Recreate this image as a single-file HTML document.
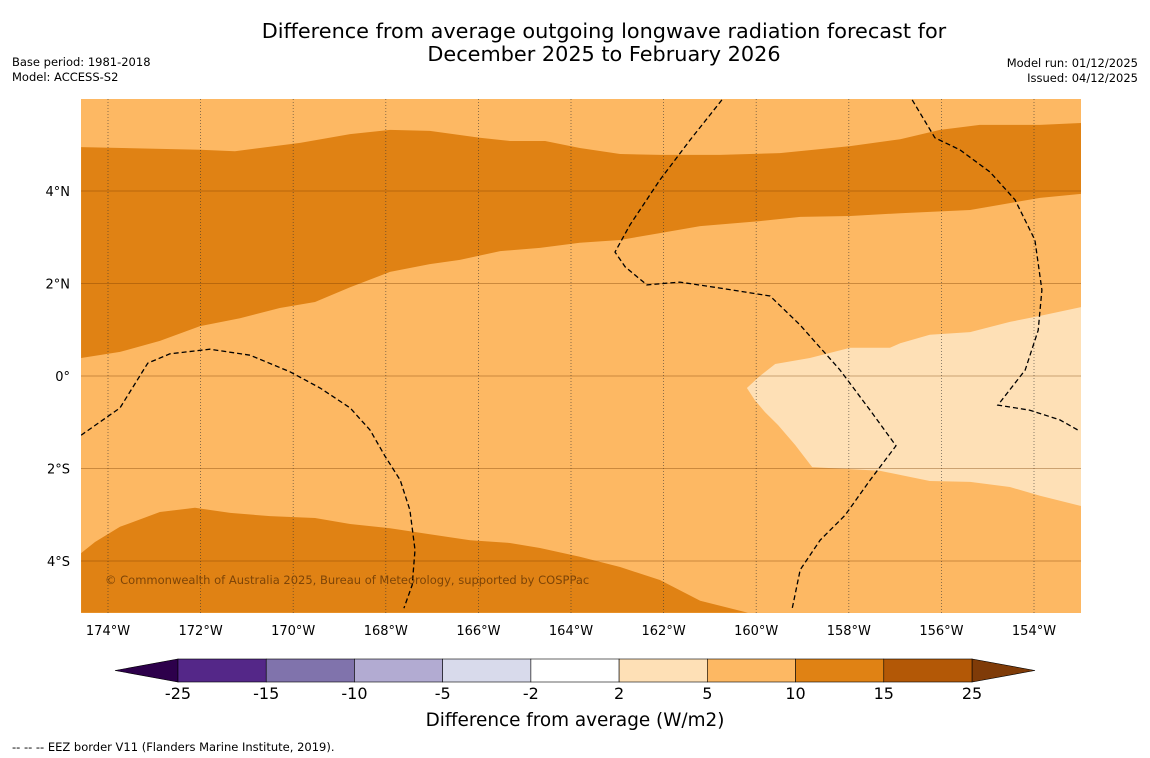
<!DOCTYPE html>
<html><head><meta charset="utf-8">
<style>
html,body{margin:0;padding:0;background:#fff;}
svg{display:block;font-family:"DejaVu Sans","Liberation Sans",sans-serif;}
</style></head>
<body>
<svg id="c" width="1150" height="758" viewBox="0 0 1150 758" xmlns="http://www.w3.org/2000/svg">
<rect width="1150" height="758" fill="#fff"/>
<text x="604" y="38" font-size="20.8" text-anchor="middle">Difference from average outgoing longwave radiation forecast for</text>
<text x="604" y="61" font-size="20.8" text-anchor="middle">December 2025 to February 2026</text>
<text x="12" y="66" font-size="11.5">Base period: 1981-2018</text>
<text x="12" y="81" font-size="11.5">Model: ACCESS-S2</text>
<text x="1138" y="67" font-size="11.5" text-anchor="end">Model run: 01/12/2025</text>
<text x="1138" y="82" font-size="11.5" text-anchor="end">Issued: 04/12/2025</text>
<defs><clipPath id="mapclip"><rect x="81" y="99" width="1000" height="514"/></clipPath></defs>
<g id="map" clip-path="url(#mapclip)">
<rect x="81" y="99" width="1000" height="514" fill="#fdb863"/>
</g>
<g id="axes"></g>
<g id="cbar"></g>
<text x="575" y="726" font-size="18.4" text-anchor="middle">Difference from average (W/m2)</text>
<text x="12" y="751" font-size="11.5">--  --  -- EEZ border V11 (Flanders Marine Institute, 2019).</text>
</svg>
<script>
const NS="http://www.w3.org/2000/svg";
const lonTicks=[-174,-172,-170,-168,-166,-164,-162,-160,-158,-156,-154];
const lonTickLabels=["174°W","172°W","170°W","168°W","166°W","164°W","162°W","160°W","158°W","156°W","154°W"];
const latTicks=[4,2,0,-2,-4];
const latTickLabels=["4°N","2°N","0°","2°S","4°S"];
// contour regions [lon, lat]
const northBandTop=[[-174.58,4.95],[-172.01,4.89],[-171.26,4.86],[-169.85,5.04],[-168.77,5.23],[-167.91,5.32],[-167.05,5.30],[-165.97,5.15],[-165.32,5.08],[-164.56,5.08],[-163.81,4.93],[-162.94,4.80],[-162.08,4.78],[-160.78,4.78],[-159.49,4.82],[-157.97,4.97],[-156.89,5.12],[-156.03,5.32],[-155.17,5.43],[-153.87,5.43],[-152.98,5.47]];
const northBandBottom=[[-152.98,3.94],[-153.87,3.85],[-155.38,3.59],[-156.89,3.52],[-157.97,3.46],[-159.05,3.44],[-159.92,3.35],[-161.21,3.24],[-162.08,3.09],[-162.94,2.94],[-163.81,2.88],[-164.67,2.77],[-165.53,2.70],[-166.40,2.51],[-167.05,2.42],[-167.91,2.25],[-168.77,1.92],[-169.53,1.60],[-170.29,1.47],[-171.15,1.25],[-172.01,1.08],[-172.88,0.76],[-173.74,0.52],[-174.58,0.39]];
const southBandTop=[[-174.58,-3.83],[-174.28,-3.59],[-173.74,-3.26],[-172.88,-2.94],[-172.12,-2.85],[-171.36,-2.96],[-170.50,-3.03],[-169.53,-3.07],[-168.77,-3.20],[-167.91,-3.29],[-167.05,-3.42],[-166.18,-3.55],[-165.32,-3.61],[-164.67,-3.72],[-163.81,-3.91],[-162.94,-4.13],[-162.08,-4.41],[-161.21,-4.86],[-160.18,-5.12],[-174.58,-5.12]];
const paleRegion=[[-152.98,1.49],[-153.87,1.30],[-154.52,1.17],[-155.38,0.95],[-156.25,0.89],[-156.89,0.71],[-157.11,0.61],[-157.97,0.61],[-158.84,0.39],[-159.59,0.26],[-159.92,0],[-160.20,-0.26],[-160.03,-0.52],[-159.81,-0.78],[-159.53,-1.06],[-159.16,-1.49],[-158.79,-1.97],[-157.33,-2.05],[-156.25,-2.27],[-155.38,-2.29],[-154.52,-2.40],[-153.87,-2.59],[-152.98,-2.81]];
const eez1=[[-174.58,-1.28],[-173.74,-0.69],[-173.14,0.28],[-172.66,0.48],[-171.80,0.58],[-170.93,0.45],[-170.07,0.09],[-169.42,-0.26],[-168.77,-0.69],[-168.34,-1.17],[-168.02,-1.73],[-167.69,-2.25],[-167.48,-2.90],[-167.37,-3.76],[-167.43,-4.52],[-167.61,-5.02]];
const eez2=[[-160.74,5.97],[-161.43,5.10],[-162.08,4.24],[-162.73,3.26],[-163.05,2.68],[-162.83,2.36],[-162.36,1.97],[-161.65,2.03],[-160.78,1.90],[-159.70,1.73],[-159.05,1.10],[-158.19,0.13],[-157.54,-0.74],[-156.98,-1.51],[-157.54,-2.25],[-158.08,-3.01],[-158.62,-3.55],[-159.05,-4.19],[-159.23,-5.06]];
const eez3=[[-156.63,5.97],[-156.14,5.15],[-155.60,4.89],[-154.95,4.41],[-154.41,3.81],[-153.98,2.94],[-153.83,1.86],[-153.91,0.99],[-154.19,0.13],[-154.78,-0.63],[-154.09,-0.74],[-153.44,-0.95],[-153.05,-1.17]];
const cbarLabels=["-25","-15","-10","-5","-2","2","5","10","15","25"];
const cbarColors=["#542788","#8073ac","#b2abd2","#d8daeb","#ffffff","#fee0b6","#fdb863","#e08214","#b35806"];

function x(lon){return 108+(lon+174)*46.3;}
function y(lat){return 376-lat*46.25;}
function pts(a){return a.map(p=>x(p[0]).toFixed(1)+","+y(p[1]).toFixed(1)).join(" ");}
function mk(tag,attrs,parent){const e=document.createElementNS(NS,tag);for(const k in attrs)e.setAttribute(k,attrs[k]);parent.appendChild(e);return e;}

const map=document.getElementById("map");
let e=mk("polygon",{points:pts(northBandTop.concat(northBandBottom)),fill:"#e08214"},map);


e=mk("polygon",{points:pts(southBandTop),fill:"#e08214"},map);


e=mk("polygon",{points:pts(paleRegion),fill:"#fee0b6"},map);


lonTicks.forEach(l=>{
  const g=mk("line",{x1:x(l),x2:x(l),y1:99,y2:613,stroke:"#333","stroke-width":0.8,"stroke-dasharray":"1,2","stroke-opacity":0.7},map);
  
  
});
latTicks.forEach(l=>{
  const g=mk("line",{x1:81,x2:1081,y1:y(l),y2:y(l),stroke:"#7a3c00","stroke-width":0.8,"stroke-opacity":0.5},map);
  
  
});
[eez1,eez2,eez3].forEach((a,i)=>{
  const p=mk("polyline",{points:pts(a),fill:"none",stroke:"#000","stroke-width":1.3,"stroke-dasharray":"5,3"},map);
  
  
});
e=mk("text",{x:105,y:584,"font-size":11.5,fill:"#6b3a05","fill-opacity":0.85},map);
e.textContent="© Commonwealth of Australia 2025, Bureau of Meteorology, supported by COSPPac";



const axes=document.getElementById("axes");
lonTicks.forEach((l,i)=>{
  const t=mk("text",{x:x(l),y:635,"font-size":13,"text-anchor":"middle"},axes);
  t.textContent=lonTickLabels[i];
  
  
});
latTicks.forEach((l,i)=>{
  const t=mk("text",{x:70,y:y(l)+5,"font-size":13,"text-anchor":"end"},axes);
  t.textContent=latTickLabels[i];
  
  
});

const cb=document.getElementById("cbar");
const cx0=178,cx1=972,cy0=659,cy1=682,cw=(cx1-cx0)/cbarColors.length;
e=mk("polygon",{points:`115,670.5 ${cx0},${cy0} ${cx0},${cy1}`,fill:"#2d004b",stroke:"#000","stroke-width":0.6},cb);


e=mk("polygon",{points:`1035,670.5 ${cx1},${cy0} ${cx1},${cy1}`,fill:"#7f3b08",stroke:"#000","stroke-width":0.6},cb);


cbarColors.forEach((c,i)=>{
  const r=mk("rect",{x:cx0+i*cw,y:cy0,width:cw,height:cy1-cy0,fill:c,stroke:"#000","stroke-width":0.6},cb);
  
  
});
cbarLabels.forEach((s,i)=>{
  const t=mk("text",{x:cx0+i*cw,y:699,"font-size":16,"text-anchor":"middle"},cb);
  t.textContent=s;
  
  
});
</script>
</body></html>
